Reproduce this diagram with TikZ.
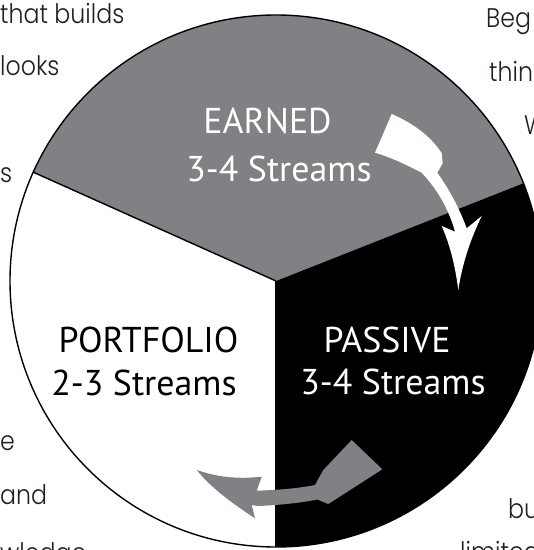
\documentclass[tikz,border=0pt]{standalone}
\usepackage{fontspec}
\setmainfont{PT Sans}
\IfFontExistsTF{Poppins Light}{\newfontfamily\geo{Poppins Light}[FakeStretch=0.88]}{\newfontfamily\geo{Poppins}[FakeStretch=0.88]}
\definecolor{wheelgray}{RGB}{128,129,133}
\definecolor{inkgray}{RGB}{35,31,32}
\begin{document}
\begin{tikzpicture}[x=1bp,y=-1bp,
  bgtext/.style={font=\geo\fontsize{27}{30}\selectfont, text=inkgray, inner sep=0pt},
  seclabel/.style={font=\fontsize{36}{40}\selectfont, inner sep=0pt, anchor=base},
  divider/.style={draw=black, line width=1.4bp},
  rim/.style={draw=black, line width=1.4bp}]
\useasboundingbox (0,0) rectangle (534,550);
\clip (0,0) rectangle (534,550);
\fill[white] (0,0) rectangle (534,550);

% background text (partly hidden behind the wheel)
\node[bgtext, anchor=base west] (t1) at (0,24) {that builds};
\node[bgtext, anchor=base west] (t2) at (0,76) {looks};
\node[bgtext, anchor=base west] (t3) at (0,183) {s};
\node[bgtext, anchor=base west] (t4) at (0,450) {e};
\node[bgtext, anchor=base west] (t5) at (0,504) {and};
\node[bgtext, anchor=base west] (t6) at (0,562) {wledge};
\node[bgtext, anchor=base west] (t7) at (486,28) {Beg};
\node[bgtext, anchor=base west] (t8) at (489,82) {thin};
\node[bgtext, anchor=base west] (t9) at (524,135) {W};
\node[bgtext, anchor=base west] (t10) at (508,518) {bu};
\node[bgtext, anchor=base west] (t11) at (460,561) {limited};

% wheel
\coordinate (C) at (276,281);
\coordinate (L) at (33.3,172.2);
\coordinate (R) at (523.3,183.3);
\coordinate (B) at (276,547);
\begin{scope}
  \clip (C) circle[radius=266];
  \fill[white] (C) circle[radius=266];
  \fill[wheelgray] (C) -- (-86,119) -- (-86,-200) -- (648,-200) -- (648,134) -- cycle;
  \fill[black] (C) -- (648,134) -- (648,700) -- (276,700) -- cycle;
\end{scope}
\draw[divider] (C) -- (L);
\draw[divider] (C) -- (B);
\draw[rim] (C) circle[radius=266];

% white arrow (earned -> passive)
\fill[white] (391.7,114) .. controls (415,124) and (432,138) .. (441.7,153.3)
  -- (442.7,163.3) -- (437.3,172.7)
  .. controls (448,188) and (458,205) .. (466.7,228.3)
  -- (481.7,216)
  .. controls (470,240) and (462,265) .. (458.3,290)
  .. controls (455,265) and (450,245) .. (441.7,226)
  -- (455,231.7)
  .. controls (449,210) and (438,190) .. (421.7,172.7)
  .. controls (405,164) and (390,157) .. (375,152.7) -- cycle;

% gray arrow (passive -> portfolio)
\fill[wheelgray] (351.7,440) -- (382.3,469.3) -- (328.3,504) -- (317.5,499.5)
  .. controls (300,503) and (280,505) .. (258.3,506)
  -- (251.7,505) -- (255,518.3)
  .. controls (235,505) and (213,490) .. (196.7,470)
  .. controls (220,478) and (240,479) .. (261.7,476.7)
  -- (256.7,490.7)
  .. controls (280,490) and (300,488) .. (315,485)
  -- (323.3,470) -- cycle;

% sector labels
\node[seclabel, text=white] (earned) at (267.5,134) {EARNED};
\node[seclabel, text=white] (earnedn) at (279,182) {3-4 Streams};
\node[seclabel, text=black] (portfolio) at (148.5,352) {PORTFOLIO};
\node[seclabel, text=black] (portfolion) at (144,395) {2-3 Streams};
\node[seclabel, text=white] (passive) at (387,352) {PASSIVE};
\node[seclabel, text=white] (passiven) at (393,394) {3-4 Streams};
\end{tikzpicture}
\end{document}
